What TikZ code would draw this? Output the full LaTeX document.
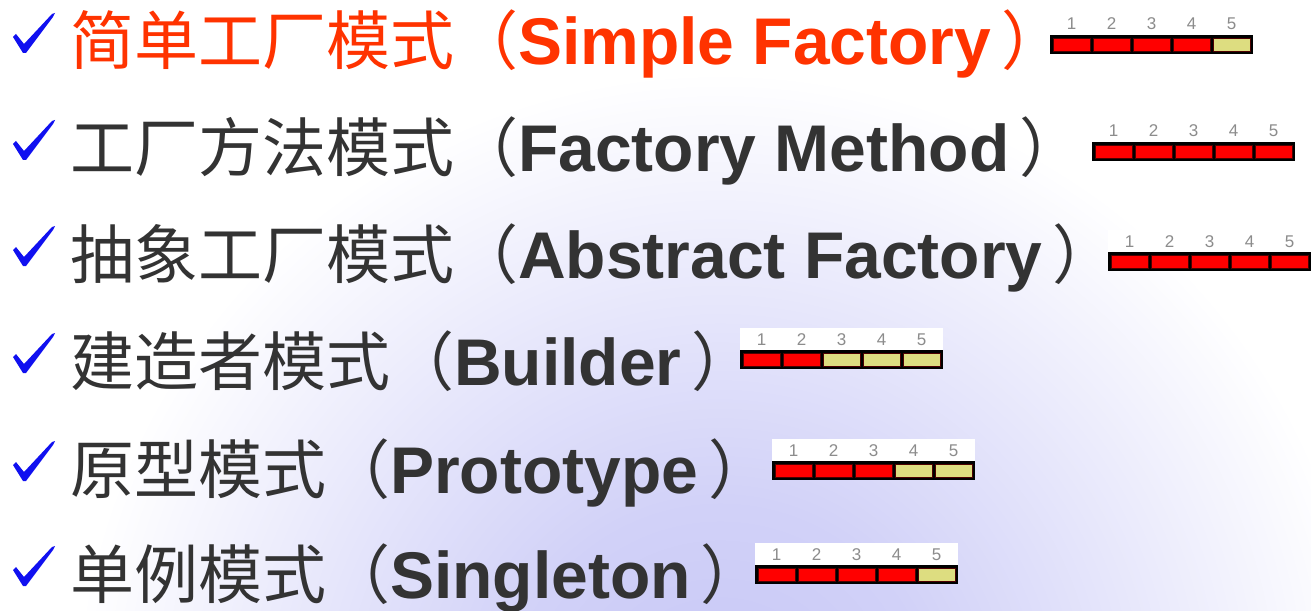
\documentclass[tikz,border=0pt]{standalone}
\usepackage{fontspec}
\newfontfamily\cjkf{Noto Sans CJK SC}
\newfontfamily\latf{Liberation Sans}
\newcommand\cjksz{\cjkf\fontsize{64bp}{64bp}\selectfont}
\newcommand\latsz{\latf\bfseries\fontsize{66bp}{66bp}\selectfont}
\definecolor{lav}{RGB}{198,198,246}
\definecolor{ttl}{RGB}{255,51,0}
\definecolor{txt}{RGB}{51,51,51}
\definecolor{chkblue}{RGB}{16,16,240}
\definecolor{barred}{RGB}{255,0,0}
\definecolor{baryel}{RGB}{221,221,128}
\definecolor{digit}{RGB}{140,140,140}
\pgfdeclareradialshading{bgsh}{\pgfpoint{0bp}{0bp}}{color(0bp)=(lav); color(6bp)=(lav!80!white); color(18bp)=(white); color(50bp)=(white)}
\tikzset{
  rowtxt/.style={anchor=base west, inner sep=0pt, text=txt},
  digitlbl/.style={anchor=base, inner sep=0pt, font=\latf\fontsize{17bp}{17bp}\selectfont, text=digit},
  pics/chk/.style={code={
    \fill[chkblue] (0,24) -- (3,21) -- (11,31) -- (39,1) -- (42,0) -- (40,4) -- (13,40) -- (10,40) -- cycle;
  }},
  pics/rating/.style={code={
    \fill[white] (0,-22) rectangle (203,0);
    \fill[black] (0,0) rectangle (203,19);
    \foreach \i in {1,...,5}{
      \ifnum\i>#1\relax\def\cc{baryel}\else\def\cc{barred}\fi
      \filldraw[fill=\cc, draw=black!70!red, line width=0.6bp] ({40*\i-37},3) rectangle ++(37,13);
      \node[digitlbl] (d\i) at ({40*\i-18.5},-5) {\i};
    }
  }},
}
\begin{document}
\begin{tikzpicture}[x=1bp,y=-1bp]
\useasboundingbox (0,0) rectangle (1311,611);
\begin{scope}
  \clip (0,0) rectangle (1311,611);
  \fill[white] (0,0) rectangle (1311,611);
  \shade[shading=bgsh] (720,720) circle[radius=900bp];
\end{scope}

% row 1
\pic at (13,13) {chk};
\node[rowtxt, text=ttl] (r1) at (70,65) {{\cjksz 简单工厂模式（}{\latsz Simple Factory}\hspace{10bp}{\cjksz ）}};
\pic (b1) at (1050,35) {rating=4};
% row 2
\pic at (13,120) {chk};
\node[rowtxt] (r2) at (70,172) {{\cjksz 工厂方法模式（}{\latsz Factory Method}\hspace{10bp}{\cjksz ）}};
\pic (b2) at (1092,142) {rating=5};
% row 3
\pic at (13,226) {chk};
\node[rowtxt] (r3) at (70,278) {{\cjksz 抽象工厂模式（}{\latsz Abstract Factory}\hspace{10bp}{\cjksz ）}};
\pic (b3) at (1108,252) {rating=5};
% row 4
\pic at (13,333) {chk};
\node[rowtxt] (r4) at (70,385) {{\cjksz 建造者模式（}{\latsz Builder}\hspace{10bp}{\cjksz ）}};
\pic (b4) at (740,350) {rating=2};
% row 5
\pic at (13,441) {chk};
\node[rowtxt] (r5) at (70,493) {{\cjksz 原型模式（}{\latsz Prototype}\hspace{10bp}{\cjksz ）}};
\pic (b5) at (772,461) {rating=3};
% row 6
\pic at (13,546) {chk};
\node[rowtxt] (r6) at (70,598) {{\cjksz 单例模式（}{\latsz Singleton}\hspace{10bp}{\cjksz ）}};
\pic (b6) at (755,565) {rating=4};
\end{tikzpicture}
\end{document}
